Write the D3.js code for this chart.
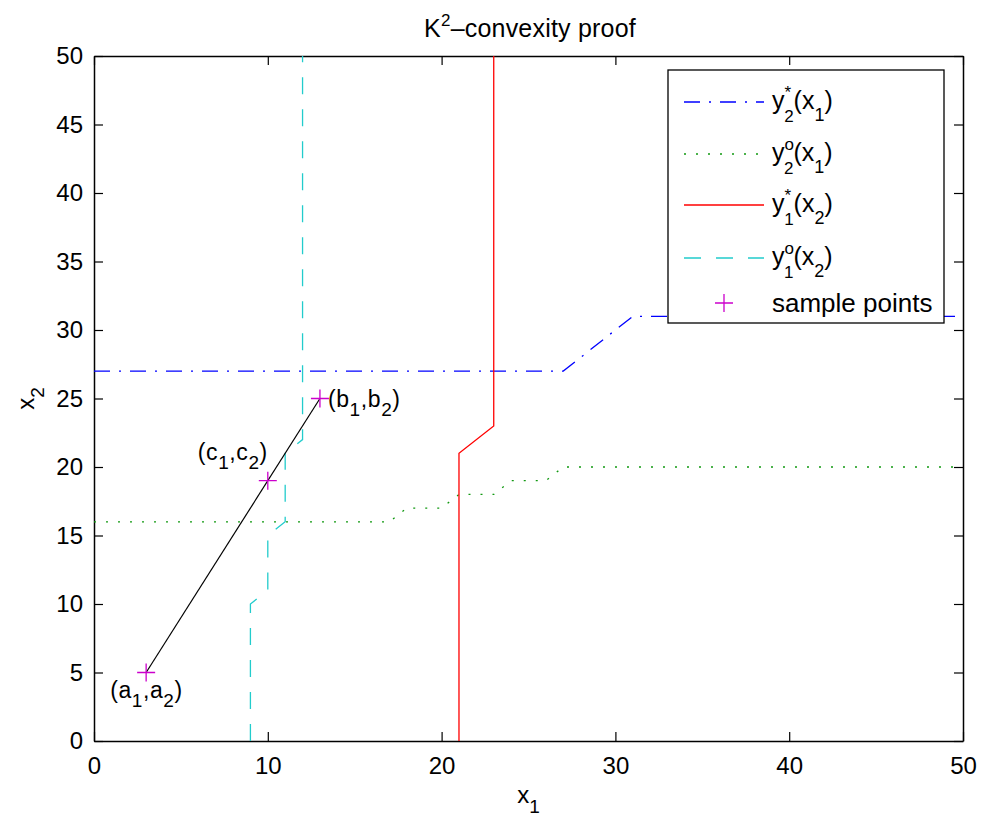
<!DOCTYPE html>
<html>
<head>
<meta charset="utf-8">
<script src="https://cdn.jsdelivr.net/npm/d3@7"></script>
<style>
  body { margin: 0; background: #fff; }
  text { font-family: "Liberation Sans", Arial, sans-serif; fill: #000; }
</style>
</head>
<body>
<div id="chart"></div>
<script>
// best response curves
const y2Star = [[0, 27], [27, 27], [31, 31], [50, 31]];                 // y2*(x1): [x1, x2]
const y2Opt = [[0, 16], [17, 16], [18, 17], [20, 17], [21, 18], [23, 18],
               [24, 19], [26, 19], [27, 20], [50, 20]];                 // y2o(x1)
const y1Star = [[21, 0], [21, 21], [23, 23], [23, 50]];                 // y1*(x2)
const y1Opt = [[9, 0], [9, 10], [10, 11], [10, 15], [11, 16], [11, 21],
               [12, 22], [12, 50]];                                     // y1o(x2)

// sample points a, b, c
const samples = [
  { name: "a", x: 3, y: 5 },
  { name: "b", x: 13, y: 25 },
  { name: "c", x: 10, y: 19 }
];

const xTicks = [0, 10, 20, 30, 40, 50];
const yTicks = [0, 5, 10, 15, 20, 25, 30, 35, 40, 45, 50];

const W = 982, H = 823;
const margin = { top: 56, right: 19, bottom: 82, left: 94 };
const width = W - margin.left - margin.right;
const height = H - margin.top - margin.bottom;

const svg = d3.select("#chart").append("svg")
    .attr("width", W)
    .attr("height", H);

const g = svg.append("g")
    .attr("transform", `translate(${margin.left},${margin.top})`);

const x = d3.scaleLinear().domain([0, 50]).range([0, width]);
const y = d3.scaleLinear().domain([0, 50]).range([height, 0]);

// axes, ticks pointing inward on all four sides
const tickLen = 9;
g.append("g")
    .attr("transform", `translate(0,${height})`)
    .call(d3.axisBottom(x).tickValues(xTicks).tickSizeInner(-tickLen).tickSizeOuter(0).tickPadding(16))
    .call(a => a.selectAll("text").style("font-size", "24px"));
g.append("g")
    .call(d3.axisTop(x).tickValues(xTicks).tickSizeInner(-tickLen).tickSizeOuter(0).tickFormat(""));
g.append("g")
    .call(d3.axisLeft(y).tickValues(yTicks).tickSizeInner(-tickLen).tickSizeOuter(0).tickPadding(11))
    .call(a => a.selectAll("text").style("font-size", "24px"));
g.append("g")
    .attr("transform", `translate(${width},0)`)
    .call(d3.axisRight(y).tickValues(yTicks).tickSizeInner(-tickLen).tickSizeOuter(0).tickFormat(""));
g.selectAll(".domain").attr("stroke", "#000").attr("stroke-width", 1.5);
g.selectAll(".tick line").attr("stroke", "#000").attr("stroke-width", 1.2);

const line = d3.line()
    .x(d => x(d[0]))
    .y(d => y(d[1]));

const curves = [
  { data: y2Star, color: "#0000ff", dash: "16,9,2,9" },
  { data: y2Opt, color: "#119911", dash: "2,10" },
  { data: y1Star, color: "#ff0000", dash: null },
  { data: y1Opt, color: "#22cccc", dash: "17,15" }
];

curves.forEach(c => {
  g.append("path")
      .datum(c.data)
      .attr("fill", "none")
      .attr("stroke", c.color)
      .attr("stroke-width", 1.3)
      .attr("stroke-dasharray", c.dash)
      .attr("d", line);
});

// segment from a to b
const a = samples[0], b = samples[1];
g.append("line")
    .attr("x1", x(a.x)).attr("y1", y(a.y))
    .attr("x2", x(b.x)).attr("y2", y(b.y))
    .attr("stroke", "#000")
    .attr("stroke-width", 1.2);

// plus markers
const plus = 9;
samples.forEach(s => {
  g.append("path")
      .attr("d", `M${x(s.x) - plus},${y(s.y)}H${x(s.x) + plus}M${x(s.x)},${y(s.y) - plus}V${y(s.y) + plus}`)
      .attr("stroke", "#cc00cc")
      .attr("stroke-width", 1.3)
      .attr("fill", "none");
});

// text with sub / superscripts: parts = [[text, "sub"|"sup"|null], ...]
function richText(sel, parts, size, small, ls) {
  let shift = 0;
  sel.style("letter-spacing", (ls || 0) + "px");
  parts.forEach(([t, kind]) => {
    const target = kind === "sub" ? size * 0.4 : kind === "sup" ? -size * 0.45 : 0;
    sel.append("tspan")
        .attr("dy", target - shift)
        .style("font-size", (kind ? small : size) + "px")
        .text(t);
    shift = target;
  });
  return sel;
}

// point labels
const pointLabels = [
  { s: samples[0], dx: -36, dy: 25 },
  { s: samples[1], dx: 8, dy: 8 },
  { s: samples[2], dx: -70, dy: -21 }
];
pointLabels.forEach(p => {
  const t = g.append("text")
      .attr("x", x(p.s.x) + p.dx)
      .attr("y", y(p.s.y) + p.dy);
  richText(t, [["(" + p.s.name, null], ["1", "sub"], ["," + p.s.name, null], ["2", "sub"], [")", null]], 23, 19, 0.6);
});

// title
richText(svg.append("text")
    .attr("x", 530)
    .attr("y", 37)
    .attr("text-anchor", "middle"),
  [["K", null], ["2", "sup"], ["\u2013convexity proof", null]], 25, 17, 0.2);

// axis labels
richText(svg.append("text")
    .attr("x", margin.left + width / 2)
    .attr("y", 803)
    .attr("text-anchor", "middle"),
  [["x", null], ["1", "sub"]], 24, 19, 0);

richText(svg.append("text")
    .attr("transform", `translate(34,${margin.top + height / 2}) rotate(-90)`)
    .attr("text-anchor", "middle"),
  [["x", null], ["2", "sub"]], 24, 19, 0);

// legend
const legendItems = [
  { main: "y", sub: "2", sup: "*", arg: "1", curve: curves[0] },
  { main: "y", sub: "2", sup: "o", arg: "1", curve: curves[1] },
  { main: "y", sub: "1", sup: "*", arg: "2", curve: curves[2] },
  { main: "y", sub: "1", sup: "o", arg: "2", curve: curves[3] },
  { label: "sample points" }
];
const lg = svg.append("g").attr("transform", "translate(668,70)");
lg.append("rect")
    .attr("width", 276).attr("height", 253)
    .attr("fill", "#fff").attr("stroke", "#000").attr("stroke-width", 1.3);

const rowY = [32, 84, 135, 188, 233];
legendItems.forEach((it, i) => {
  const ry = rowY[i];
  if (it.curve) {
    lg.append("line")
        .attr("x1", 16).attr("x2", 96)
        .attr("y1", ry).attr("y2", ry)
        .attr("stroke", it.curve.color)
        .attr("stroke-width", 1.3)
        .attr("stroke-dasharray", it.curve.dash);
    const t = lg.append("text").attr("x", 104).attr("y", ry + 7);
    t.append("tspan").style("font-size", "25px").text(it.main);
    // superscript and subscript stacked above each other
    t.append("tspan").attr("dy", -11).style("font-size", "17px").text(it.sup);
    t.append("tspan").attr("dy", 24).attr("dx", it.sup === "*" ? -7 : -10).style("font-size", "17px").text(it.sub);
    t.append("tspan").attr("dy", -13).style("font-size", "25px").text("(x");
    t.append("tspan").attr("dy", 12).style("font-size", "18px").text(it.arg);
    t.append("tspan").attr("dy", -12).style("font-size", "25px").text(")");
  } else {
    lg.append("path")
        .attr("d", `M${56 - plus},${ry}H${56 + plus}M56,${ry - plus}V${ry + plus}`)
        .attr("stroke", "#cc00cc")
        .attr("stroke-width", 1.3);
    lg.append("text").attr("x", 104).attr("y", ry + 9)
        .style("font-size", "26px").text(it.label);
  }
});
</script>
</body>
</html>
